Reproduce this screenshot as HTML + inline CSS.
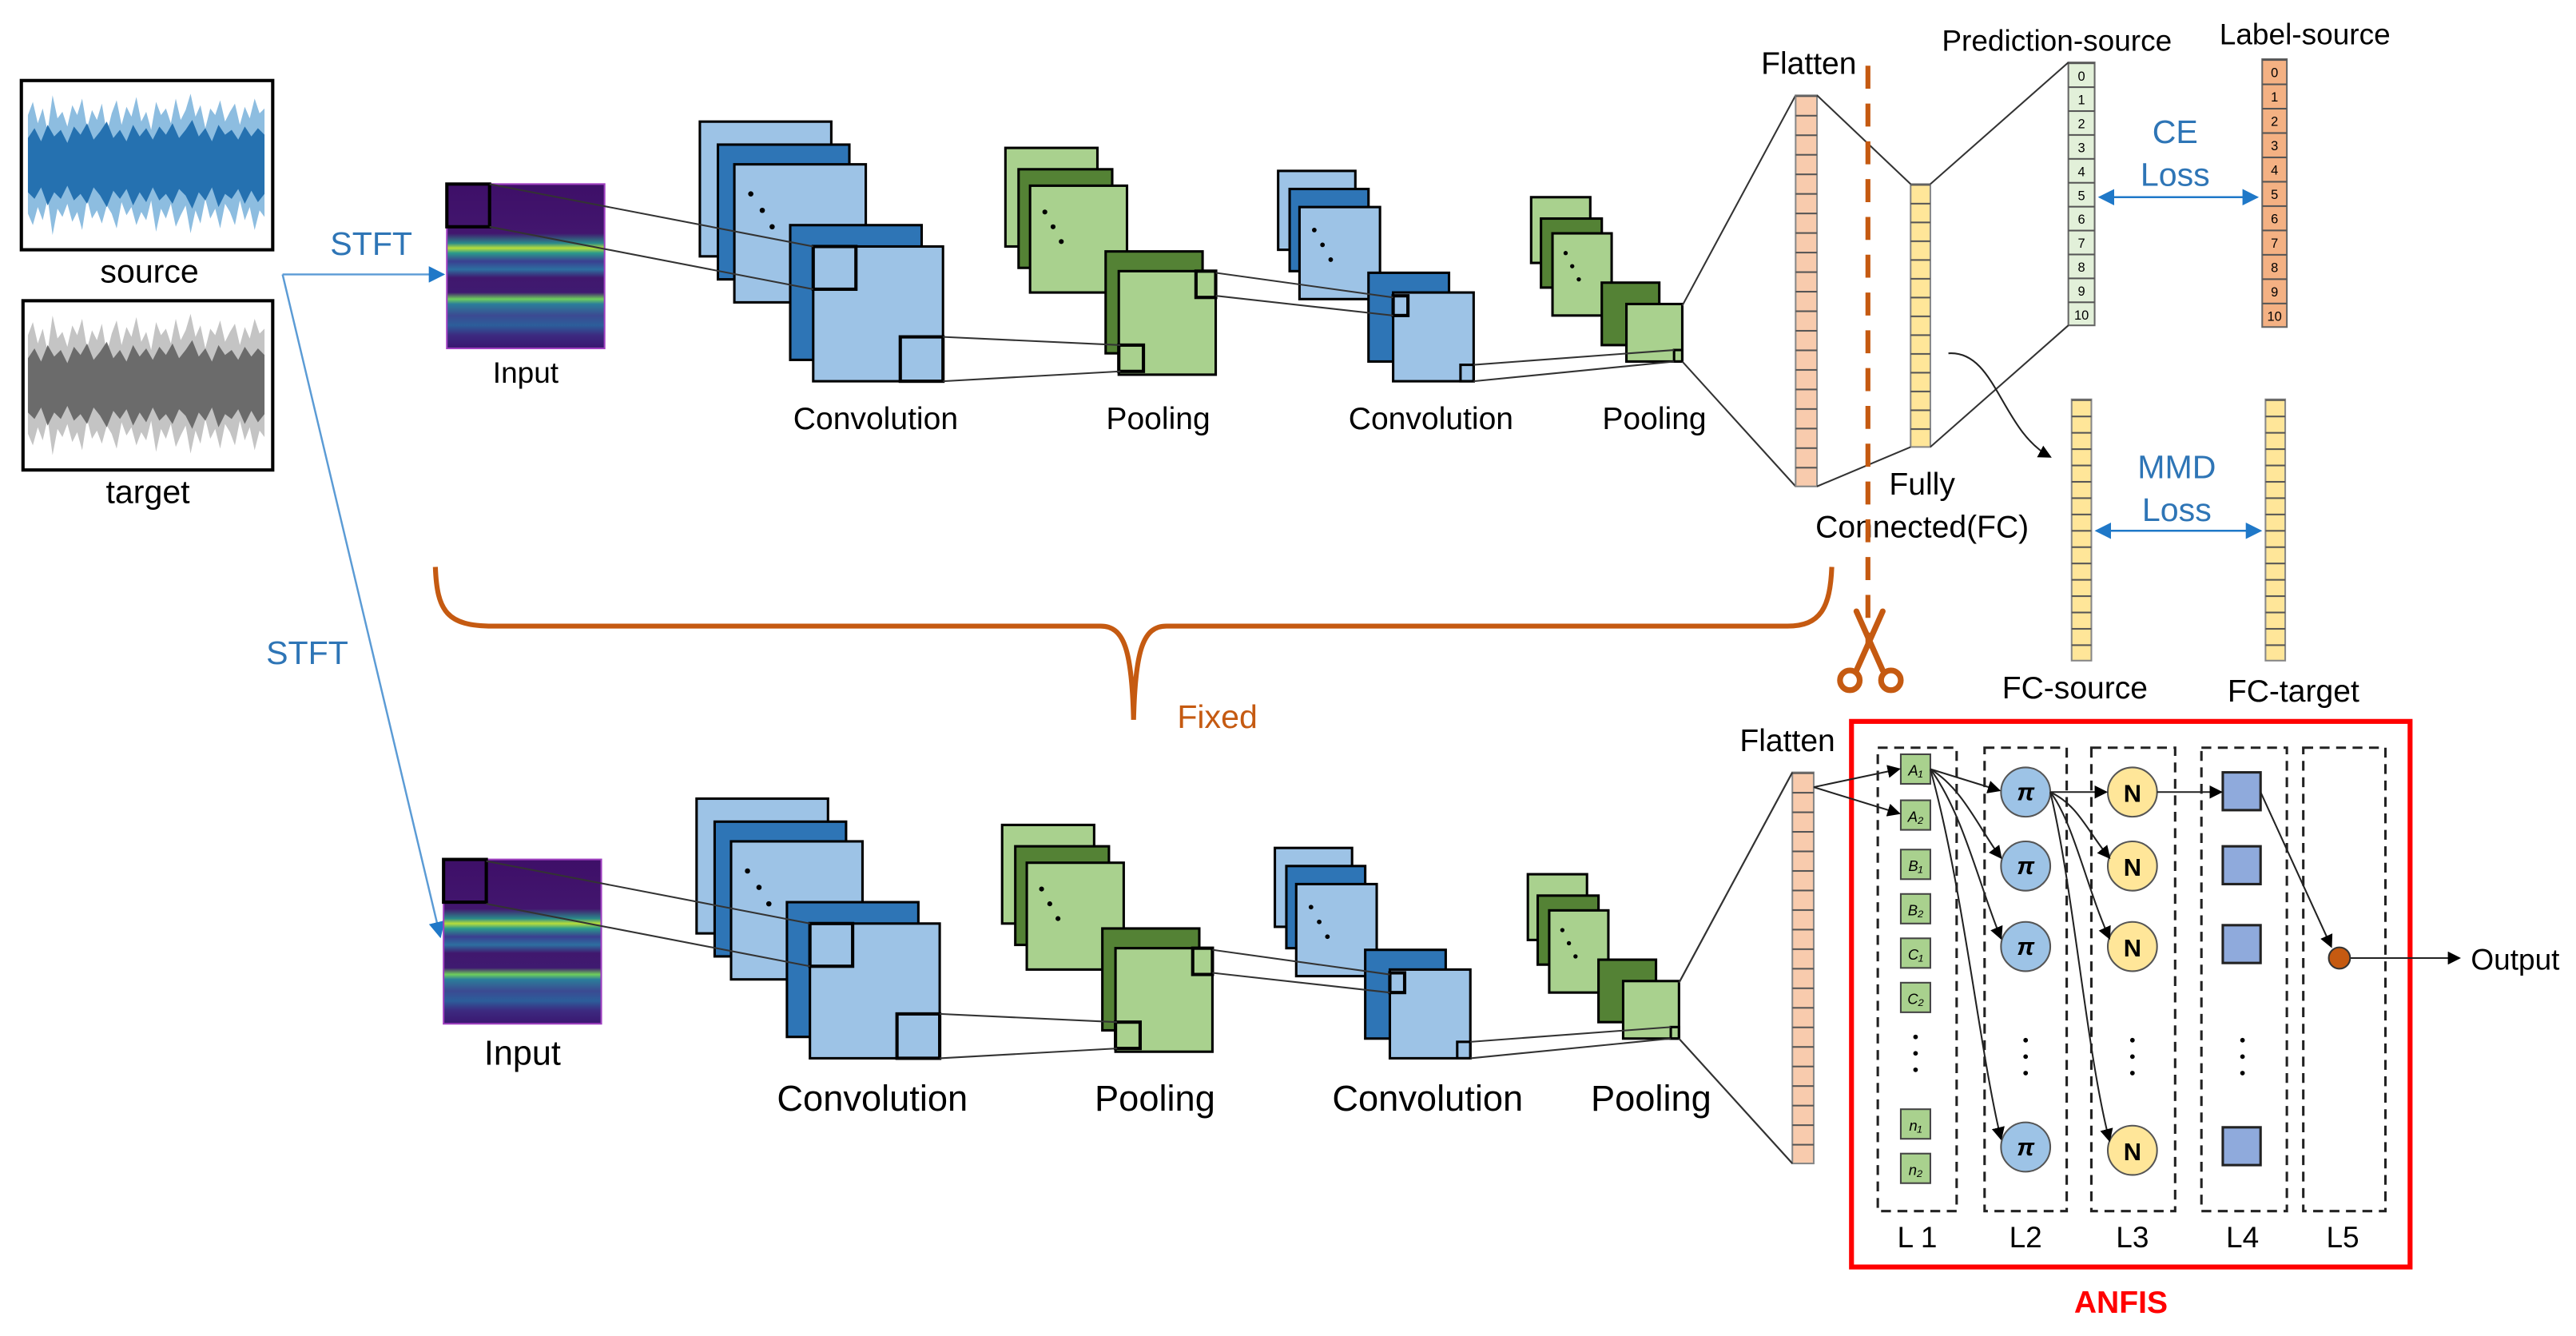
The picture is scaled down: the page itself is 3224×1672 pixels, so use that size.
<!DOCTYPE html>
<html><head><meta charset="utf-8"><style>
html,body{margin:0;padding:0;background:#fff}
svg{display:block}
text{font-family:"Liberation Sans",Arial,sans-serif}
</style></head><body>
<svg width="3224" height="1672" viewBox="0 0 1568 813" preserveAspectRatio="none" xmlns="http://www.w3.org/2000/svg" xmlns:xlink="http://www.w3.org/1999/xlink">
<defs>
<marker id="ab" markerWidth="8" markerHeight="8" refX="7" refY="4" orient="auto" markerUnits="userSpaceOnUse"><path d="M0,0 L8,4 L0,8 z" fill="#000"/></marker>
<marker id="abl" markerWidth="10" markerHeight="10" refX="9" refY="5" orient="auto" markerUnits="userSpaceOnUse"><path d="M0,0 L10,5 L0,10 z" fill="#1f78c8"/></marker>
<marker id="abls" markerWidth="10" markerHeight="10" refX="1" refY="5" orient="auto" markerUnits="userSpaceOnUse"><path d="M10,0 L0,5 L10,10 z" fill="#1f78c8"/></marker>
<linearGradient id="spec" x1="0" y1="0" x2="0" y2="1">
<stop offset="0" stop-color="#3e0f68"/><stop offset="0.3" stop-color="#42166e"/>
<stop offset="0.36" stop-color="#2a8a8a"/><stop offset="0.39" stop-color="#b7dd3a"/><stop offset="0.42" stop-color="#2a9a8c"/>
<stop offset="0.47" stop-color="#3a3f90"/><stop offset="0.52" stop-color="#2d6fa0"/><stop offset="0.57" stop-color="#40186e"/>
<stop offset="0.66" stop-color="#3f1a70"/><stop offset="0.7" stop-color="#6fcf5c"/><stop offset="0.73" stop-color="#2b7e9a"/>
<stop offset="0.8" stop-color="#3b4a92"/><stop offset="0.86" stop-color="#2c5e9a"/><stop offset="0.92" stop-color="#3c2a80"/><stop offset="1" stop-color="#3a1670"/>
</linearGradient>
<pattern id="p1" x="0" y="58" width="40" height="11.9" patternUnits="userSpaceOnUse"><rect x="0" y="0" width="40" height="1" fill="#555"/></pattern>
<pattern id="p1b" x="0" y="470" width="40" height="11.9" patternUnits="userSpaceOnUse"><rect x="0" y="0" width="40" height="1" fill="#555"/></pattern>
<pattern id="p2" x="0" y="112" width="40" height="11.43" patternUnits="userSpaceOnUse"><rect x="0" y="0" width="40" height="1" fill="#555"/></pattern>
<pattern id="p3" x="0" y="38" width="40" height="14.545" patternUnits="userSpaceOnUse"><rect x="0" y="0" width="40" height="1" fill="#555"/></pattern>
<pattern id="p4" x="0" y="36" width="40" height="14.82" patternUnits="userSpaceOnUse"><rect x="0" y="0" width="40" height="1" fill="#555"/></pattern>
<pattern id="p5" x="0" y="243" width="40" height="9.94" patternUnits="userSpaceOnUse"><rect x="0" y="0" width="40" height="1" fill="#555"/></pattern>
<path id="wout" d="M17,70 L20,62 L23,75 L26,66 L29,80 L32,58 L35,72 L38,68 L41,77 L44,64 L47,70 L50,60 L53,78 L56,67 L59,73 L62,63 L65,81 L68,69 L71,61 L74,76 L77,65 L80,71 L83,59 L86,74 L89,68 L92,79 L95,62 L98,70 L101,66 L104,75 L107,60 L110,73 L113,67 L116,57 L119,71 L122,64 L125,78 L128,66 L131,70 L134,61 L137,74 L140,68 L143,63 L146,76 L149,65 L152,72 L155,60 L158,69 L161,66 L161,132 L158,128 L155,140 L152,126 L149,134 L146,122 L143,137 L140,129 L137,124 L134,139 L131,127 L128,133 L125,121 L122,136 L119,128 L116,142 L113,125 L110,131 L107,138 L104,124 L101,133 L98,127 L95,141 L92,122 L89,134 L86,129 L83,137 L80,126 L77,131 L74,123 L71,139 L68,130 L65,125 L62,136 L59,128 L56,133 L53,121 L50,140 L47,129 L44,135 L41,124 L38,132 L35,127 L32,143 L29,121 L26,134 L23,126 L20,137 L17,130 Z"/>
<path id="win" d="M17,84 L21,78 L25,86 L29,76 L33,83 L37,79 L41,87 L45,77 L49,82 L53,75 L57,85 L61,80 L65,74 L69,84 L73,79 L77,86 L81,76 L85,83 L89,78 L93,85 L97,77 L101,82 L105,75 L109,84 L113,79 L117,73 L121,83 L125,78 L129,86 L133,76 L137,82 L141,79 L145,85 L149,77 L153,83 L157,78 L161,82 L161,118 L157,123 L153,116 L149,124 L145,115 L141,121 L137,118 L133,126 L129,114 L125,122 L121,117 L117,127 L113,119 L109,115 L105,124 L101,118 L97,122 L93,114 L89,123 L85,117 L81,125 L77,115 L73,121 L69,116 L65,126 L61,119 L57,114 L53,124 L49,118 L45,122 L41,113 L37,121 L33,117 L29,125 L25,114 L21,121 L17,117 Z"/>
<g id="spectro">
<rect x="0" y="0" width="96" height="100" fill="url(#spec)" stroke="#a040c0" stroke-width="1"/>
<rect x="0" y="0" width="26" height="26" fill="none" stroke="#000" stroke-width="2"/>
</g>
<g id="net">
<rect x="426" y="74" width="80" height="82" fill="#9dc3e6" stroke="#000" stroke-width="1.5"/>
<rect x="437" y="88" width="80" height="82" fill="#2e75b6" stroke="#000" stroke-width="1.5"/>
<rect x="447" y="100" width="80" height="84" fill="#9dc3e6" stroke="#000" stroke-width="1.5"/>
<circle cx="457" cy="118" r="1.6"/><circle cx="464" cy="128" r="1.6"/><circle cx="470" cy="138" r="1.6"/>
<rect x="481" y="137" width="80" height="82" fill="#2e75b6" stroke="#000" stroke-width="1.5"/>
<rect x="495" y="150" width="79" height="82" fill="#9dc3e6" stroke="#000" stroke-width="1.5"/>
<rect x="495" y="150" width="26" height="26" fill="none" stroke="#000" stroke-width="2"/>
<rect x="548" y="205" width="26" height="27" fill="none" stroke="#000" stroke-width="2"/>
<rect x="612" y="90" width="56" height="60" fill="#a9d18e" stroke="#000" stroke-width="1.5"/>
<rect x="620" y="103" width="57" height="60" fill="#548235" stroke="#000" stroke-width="1.5"/>
<rect x="627" y="113" width="59" height="65" fill="#a9d18e" stroke="#000" stroke-width="1.5"/>
<circle cx="636" cy="129" r="1.5"/><circle cx="641" cy="138" r="1.5"/><circle cx="646" cy="147" r="1.5"/>
<rect x="673" y="153" width="59" height="62" fill="#548235" stroke="#000" stroke-width="1.5"/>
<rect x="681" y="165" width="59" height="63" fill="#a9d18e" stroke="#000" stroke-width="1.5"/>
<rect x="681" y="210" width="15" height="16" fill="none" stroke="#000" stroke-width="2"/>
<rect x="728" y="165" width="12" height="16" fill="none" stroke="#000" stroke-width="2"/>
<rect x="778" y="104" width="47" height="48" fill="#9dc3e6" stroke="#000" stroke-width="1.5"/>
<rect x="785" y="115" width="48" height="50" fill="#2e75b6" stroke="#000" stroke-width="1.5"/>
<rect x="791" y="126" width="49" height="56" fill="#9dc3e6" stroke="#000" stroke-width="1.5"/>
<circle cx="800" cy="140" r="1.4"/><circle cx="805" cy="149" r="1.4"/><circle cx="810" cy="158" r="1.4"/>
<rect x="833" y="166" width="49" height="54" fill="#2e75b6" stroke="#000" stroke-width="1.5"/>
<rect x="848" y="178" width="49" height="54" fill="#9dc3e6" stroke="#000" stroke-width="1.5"/>
<rect x="848" y="180" width="9" height="12" fill="none" stroke="#000" stroke-width="2"/>
<rect x="889" y="222" width="8" height="10" fill="none" stroke="#000" stroke-width="1.5"/>
<rect x="932" y="120" width="36" height="40" fill="#a9d18e" stroke="#000" stroke-width="1.5"/>
<rect x="938" y="133" width="37" height="42" fill="#548235" stroke="#000" stroke-width="1.5"/>
<rect x="945" y="142" width="36" height="50" fill="#a9d18e" stroke="#000" stroke-width="1.5"/>
<circle cx="953" cy="154" r="1.3"/><circle cx="957" cy="162" r="1.3"/><circle cx="961" cy="170" r="1.3"/>
<rect x="975" y="172" width="35" height="38" fill="#548235" stroke="#000" stroke-width="1.5"/>
<rect x="990" y="185" width="34" height="35" fill="#a9d18e" stroke="#000" stroke-width="1.5"/>
<rect x="1019" y="213" width="5" height="7" fill="none" stroke="#000" stroke-width="1.5"/>
<g stroke="#333" stroke-width="1" fill="none">
<line x1="298" y1="112" x2="495" y2="150"/><line x1="298" y1="138" x2="495" y2="176"/>
<line x1="574" y1="205" x2="682" y2="210"/><line x1="574" y1="232" x2="682" y2="226"/>
<line x1="740" y1="166" x2="848" y2="181"/><line x1="740" y1="180" x2="848" y2="192"/>
<line x1="897" y1="222" x2="1019" y2="213"/><line x1="897" y1="232" x2="1019" y2="220"/>
<line x1="1024" y1="186" x2="1093" y2="58"/><line x1="1024" y1="220" x2="1093" y2="296"/>
</g>
</g>
</defs>

<!-- waveforms -->
<rect x="13" y="49" width="153" height="103" fill="#fff" stroke="#000" stroke-width="2"/>
<use xlink:href="#wout" href="#wout" fill="#8dbde0"/>
<use xlink:href="#win" href="#win" fill="#2571b0"/>
<rect x="14" y="183" width="152" height="103" fill="#fff" stroke="#000" stroke-width="2"/>
<g transform="translate(0,134)">
<use xlink:href="#wout" href="#wout" fill="#c4c4c4"/>
<use xlink:href="#win" href="#win" fill="#6b6b6b"/>
</g>
<text x="91" y="172" font-size="20" text-anchor="middle">source</text>
<text x="90" y="306" font-size="20" text-anchor="middle">target</text>

<line x1="172" y1="167" x2="270" y2="167" stroke="#5b9bd5" stroke-width="1.2" marker-end="url(#abl)"/>
<line x1="172" y1="167" x2="268" y2="570" stroke="#5b9bd5" stroke-width="1.2" marker-end="url(#abl)"/>
<text x="226" y="155" font-size="20" fill="#2e75b6" text-anchor="middle">STFT</text>
<text x="187" y="404" font-size="20" fill="#2e75b6" text-anchor="middle">STFT</text>

<use xlink:href="#spectro" href="#spectro" x="272" y="112"/>
<use xlink:href="#net" href="#net"/>
<text x="320" y="233" font-size="18" text-anchor="middle">Input</text>
<text x="533" y="261" font-size="19" text-anchor="middle">Convolution</text>
<text x="705" y="261" font-size="19" text-anchor="middle">Pooling</text>
<text x="871" y="261" font-size="19" text-anchor="middle">Convolution</text>
<text x="1007" y="261" font-size="19" text-anchor="middle">Pooling</text>

<use xlink:href="#spectro" href="#spectro" x="270" y="523"/>
<g transform="translate(-2,412)"><use xlink:href="#net" href="#net"/></g>
<text x="318" y="648" font-size="21" text-anchor="middle">Input</text>
<text x="531" y="676" font-size="22" text-anchor="middle">Convolution</text>
<text x="703" y="676" font-size="22" text-anchor="middle">Pooling</text>
<text x="869" y="676" font-size="22" text-anchor="middle">Convolution</text>
<text x="1005" y="676" font-size="22" text-anchor="middle">Pooling</text>

<!-- columns -->
<rect x="1093" y="58" width="13" height="238" fill="#f8cbad" stroke="#888"/>
<rect x="1093" y="58" width="13" height="238" fill="url(#p1)"/>
<rect x="1163" y="112" width="12" height="160" fill="#ffe699" stroke="#888"/>
<rect x="1163" y="112" width="12" height="160" fill="url(#p2)"/>
<rect x="1259" y="38" width="16" height="160" fill="#e2f0d9" stroke="#666"/>
<rect x="1259" y="38" width="16" height="160" fill="url(#p3)"/>
<rect x="1377" y="36" width="15" height="163" fill="#f4b183" stroke="#666"/>
<rect x="1377" y="36" width="15" height="163" fill="url(#p4)"/>
<rect x="1261" y="243" width="12" height="159" fill="#ffe699" stroke="#888"/>
<rect x="1261" y="243" width="12" height="159" fill="url(#p5)"/>
<rect x="1379" y="243" width="12" height="159" fill="#ffe699" stroke="#888"/>
<rect x="1379" y="243" width="12" height="159" fill="url(#p5)"/>
<rect x="1091" y="470" width="13" height="238" fill="#f8cbad" stroke="#888"/>
<rect x="1091" y="470" width="13" height="238" fill="url(#p1b)"/>
<g font-size="8" text-anchor="middle">
<text x="1267" y="49">0</text><text x="1267" y="63.5">1</text><text x="1267" y="78">2</text><text x="1267" y="92.6">3</text><text x="1267" y="107.1">4</text><text x="1267" y="121.7">5</text><text x="1267" y="136.2">6</text><text x="1267" y="150.8">7</text><text x="1267" y="165.3">8</text><text x="1267" y="179.9">9</text><text x="1267" y="194.4">10</text>
<text x="1384.5" y="47">0</text><text x="1384.5" y="61.8">1</text><text x="1384.5" y="76.6">2</text><text x="1384.5" y="91.5">3</text><text x="1384.5" y="106.3">4</text><text x="1384.5" y="121.1">5</text><text x="1384.5" y="135.9">6</text><text x="1384.5" y="150.7">7</text><text x="1384.5" y="165.6">8</text><text x="1384.5" y="180.4">9</text><text x="1384.5" y="195.2">10</text>
</g>

<g stroke="#333" stroke-width="1" fill="none">
<line x1="1106" y1="58" x2="1163" y2="112"/><line x1="1106" y1="296" x2="1163" y2="272"/>
<line x1="1175" y1="112" x2="1259" y2="38"/><line x1="1175" y1="272" x2="1259" y2="198"/>
<line x1="1091" y1="470" x2="1022" y2="598"/><line x1="1091" y1="708" x2="1022" y2="632"/>
</g>
<text x="1101" y="45" font-size="19" text-anchor="middle">Flatten</text>
<text x="1170" y="301" font-size="19" text-anchor="middle">Fully</text>
<text x="1170" y="327" font-size="19" text-anchor="middle">Connected(FC)</text>
<text x="1252" y="31" font-size="18" text-anchor="middle">Prediction-source</text>
<text x="1403" y="27" font-size="18" text-anchor="middle">Label-source</text>
<text x="1324" y="87" font-size="20" fill="#2e75b6" text-anchor="middle">CE</text>
<text x="1324" y="113" font-size="20" fill="#2e75b6" text-anchor="middle">Loss</text>
<line x1="1278" y1="120" x2="1374" y2="120" stroke="#1f78c8" stroke-width="1.2" marker-end="url(#abl)" marker-start="url(#abls)"/>
<text x="1325" y="291" font-size="20" fill="#2e75b6" text-anchor="middle">MMD</text>
<text x="1325" y="317" font-size="20" fill="#2e75b6" text-anchor="middle">Loss</text>
<line x1="1276" y1="323" x2="1376" y2="323" stroke="#1f78c8" stroke-width="1.2" marker-end="url(#abl)" marker-start="url(#abls)"/>
<path d="M1186,215 C1215,213 1218,262 1248,278" fill="none" stroke="#222" stroke-width="1" marker-end="url(#ab)"/>
<text x="1263" y="425" font-size="19" text-anchor="middle">FC-source</text>
<text x="1396" y="427" font-size="19" text-anchor="middle">FC-target</text>

<line x1="1137" y1="40" x2="1137" y2="392" stroke="#c55a11" stroke-width="3" stroke-dasharray="14,9"/>
<g stroke="#c55a11" stroke-width="3.5" fill="none" stroke-linecap="round">
<line x1="1130" y1="372" x2="1146" y2="408"/><line x1="1146" y1="372" x2="1130" y2="408"/>
<circle cx="1126" cy="414" r="6"/><circle cx="1151" cy="414" r="6"/>
</g>
<path d="M265,345 C266,372 272,381 300,381 L670,381 C684,381 689,395 690,438 C691,395 696,381 710,381 L1088,381 C1108,381 1114,370 1115,345" fill="none" stroke="#c55a11" stroke-width="3"/>
<text x="741" y="443" font-size="20" fill="#c55a11" text-anchor="middle">Fixed</text>

<!-- ANFIS -->
<text x="1088" y="457" font-size="19" text-anchor="middle">Flatten</text>
<rect x="1127" y="439" width="340" height="332" fill="none" stroke="#ff0000" stroke-width="3"/>
<text x="1291" y="799" font-size="19" font-weight="bold" fill="#ff0000" text-anchor="middle">ANFIS</text>
<g fill="none" stroke="#222" stroke-width="1.5" stroke-dasharray="6,4">
<rect x="1143" y="455" width="48" height="282"/>
<rect x="1208" y="455" width="50" height="282"/>
<rect x="1273" y="455" width="51" height="282"/>
<rect x="1340" y="455" width="52" height="282"/>
<rect x="1402" y="455" width="50" height="282"/>
</g>
<g font-size="18" text-anchor="middle">
<text x="1167" y="759">L 1</text><text x="1233" y="759">L2</text><text x="1298" y="759">L3</text><text x="1365" y="759">L4</text><text x="1426" y="759">L5</text>
</g>
<g fill="#a9d18e" stroke="#444" stroke-width="1">
<rect x="1157" y="459" width="18" height="18"/><rect x="1157" y="487" width="18" height="18"/>
<rect x="1157" y="517" width="18" height="18"/><rect x="1157" y="544" width="18" height="18"/>
<rect x="1157" y="571" width="18" height="18"/><rect x="1157" y="598" width="18" height="18"/>
<rect x="1157" y="675" width="18" height="18"/><rect x="1157" y="702" width="18" height="18"/>
</g>
<g font-size="9" font-style="italic" font-family="Liberation Serif,serif" text-anchor="middle">
<text x="1166" y="472">A₁</text><text x="1166" y="500">A₂</text><text x="1166" y="530">B₁</text><text x="1166" y="557">B₂</text>
<text x="1166" y="584">C₁</text><text x="1166" y="611">C₂</text><text x="1166" y="688">n₁</text><text x="1166" y="715">n₂</text>
</g>
<g fill="#000">
<circle cx="1166" cy="631" r="1.4"/><circle cx="1166" cy="641" r="1.4"/><circle cx="1166" cy="651" r="1.4"/>
<circle cx="1233" cy="633" r="1.4"/><circle cx="1233" cy="643" r="1.4"/><circle cx="1233" cy="653" r="1.4"/>
<circle cx="1298" cy="633" r="1.4"/><circle cx="1298" cy="643" r="1.4"/><circle cx="1298" cy="653" r="1.4"/>
<circle cx="1365" cy="633" r="1.4"/><circle cx="1365" cy="643" r="1.4"/><circle cx="1365" cy="653" r="1.4"/>
</g>
<g fill="#9dc3e6" stroke="#555" stroke-width="1">
<circle cx="1233" cy="482" r="15"/><circle cx="1233" cy="527" r="15"/><circle cx="1233" cy="576" r="15"/><circle cx="1233" cy="698" r="15"/>
</g>
<g font-size="15" font-weight="bold" font-style="italic" font-family="Liberation Serif,serif" text-anchor="middle">
<text x="1233" y="487">π</text><text x="1233" y="532">π</text><text x="1233" y="581">π</text><text x="1233" y="703">π</text>
</g>
<g fill="#ffe699" stroke="#555" stroke-width="1">
<circle cx="1298" cy="482" r="15"/><circle cx="1298" cy="527" r="15"/><circle cx="1298" cy="576" r="15"/><circle cx="1298" cy="700" r="15"/>
</g>
<g font-size="15" font-weight="bold" font-family="Liberation Serif,serif" text-anchor="middle">
<text x="1298" y="488">N</text><text x="1298" y="533">N</text><text x="1298" y="582">N</text><text x="1298" y="706">N</text>
</g>
<g fill="#8faadc" stroke="#222" stroke-width="1.5">
<rect x="1353" y="470" width="23" height="23"/><rect x="1353" y="515" width="23" height="23"/>
<rect x="1353" y="563" width="23" height="23"/><rect x="1353" y="686" width="23" height="23"/>
</g>
<g stroke="#222" stroke-width="1" fill="none">
<line x1="1104" y1="479" x2="1156" y2="468" marker-end="url(#ab)"/>
<line x1="1104" y1="479" x2="1156" y2="495" marker-end="url(#ab)"/>
<path d="M1175,468 L1217,481" marker-end="url(#ab)"/>
<path d="M1175,468 C1195,480 1205,505 1218,522" marker-end="url(#ab)"/>
<path d="M1175,468 C1195,495 1205,540 1218,571" marker-end="url(#ab)"/>
<path d="M1175,468 C1195,540 1205,640 1218,693" marker-end="url(#ab)"/>
<path d="M1248,482 L1282,482" marker-end="url(#ab)"/>
<path d="M1248,482 C1265,490 1270,505 1284,522" marker-end="url(#ab)"/>
<path d="M1248,482 C1262,500 1270,540 1284,571" marker-end="url(#ab)"/>
<path d="M1248,482 C1262,540 1270,640 1284,694" marker-end="url(#ab)"/>
<path d="M1313,482 L1352,482" marker-end="url(#ab)"/>
<path d="M1376,482 L1419,576" marker-end="url(#ab)"/>
<path d="M1430,583 L1497,583" marker-end="url(#ab)"/>
</g>
<circle cx="1424" cy="583" r="6.5" fill="#c55a11" stroke="#333" stroke-width="1"/>
<text x="1504" y="590" font-size="18">Output</text>
</svg>
</body></html>
